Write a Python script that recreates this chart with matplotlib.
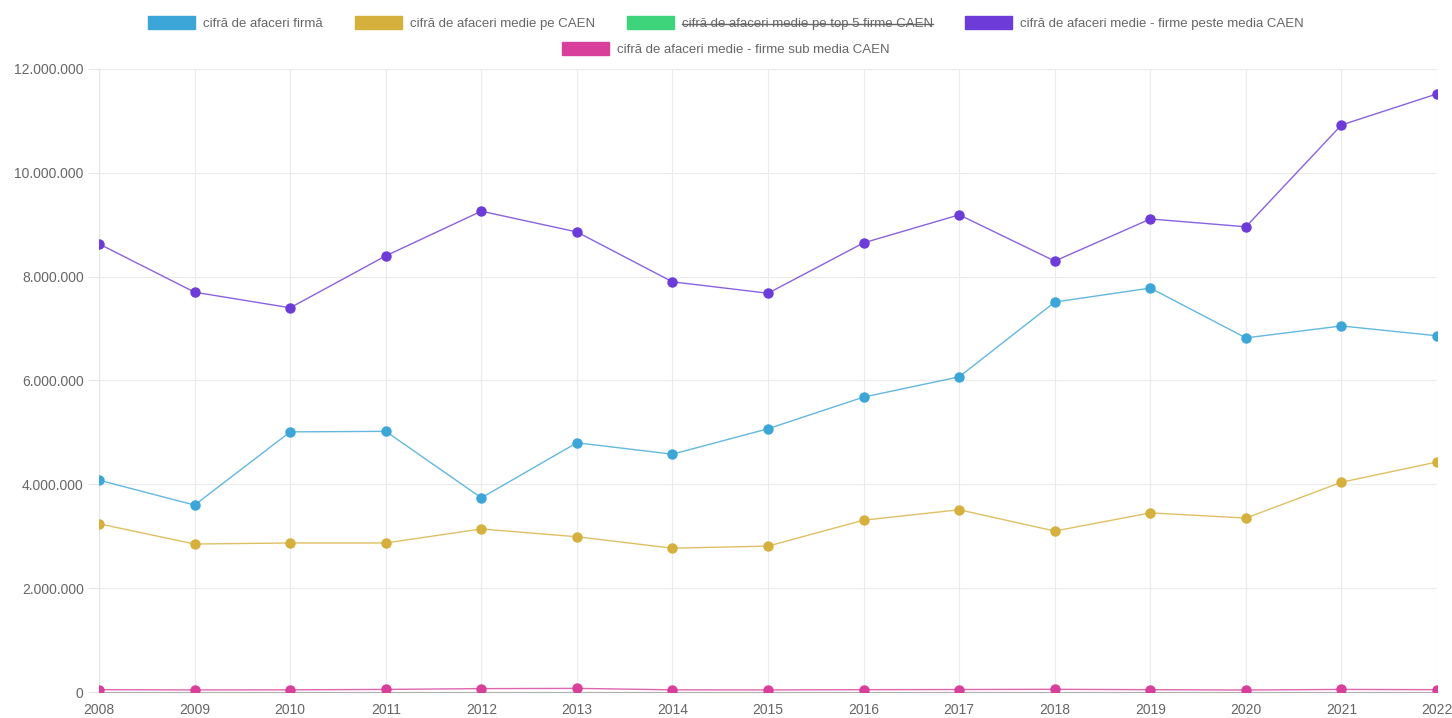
import matplotlib
matplotlib.use("Agg")
import matplotlib.pyplot as plt
from matplotlib.patches import Patch
from matplotlib.lines import Line2D
from matplotlib.ticker import FuncFormatter

plt.rcParams['font.family'] = ['Liberation Sans', 'DejaVu Sans']

# data
years = list(range(2008, 2023))
firma = [4080000, 3600000, 5010000, 5020000, 3740000, 4800000, 4580000, 5070000,
         5680000, 6070000, 7510000, 7780000, 6820000, 7050000, 6860000]
medie_caen = [3240000, 2850000, 2870000, 2870000, 3140000, 2990000, 2770000, 2810000,
              3310000, 3510000, 3100000, 3450000, 3350000, 4040000, 4430000]
peste_media = [8630000, 7700000, 7400000, 8400000, 9260000, 8860000, 7900000, 7680000,
               8650000, 9190000, 8300000, 9110000, 8960000, 10920000, 11520000]
sub_media = [45000, 40000, 42000, 50000, 65000, 70000, 42000, 40000,
             45000, 48000, 52000, 45000, 38000, 50000, 45000]

labels = ['cifră de afaceri firmă', 'cifră de afaceri medie pe CAEN',
          'cifră de afaceri medie pe top 5 firme CAEN',
          'cifră de afaceri medie - firme peste media CAEN',
          'cifră de afaceri medie - firme sub media CAEN']
colors = ['#3ca6d8', '#d6b03c', '#3dd47b', '#6c3bd8', '#d83f9b']

fig = plt.figure(figsize=(14.52, 7.18), dpi=100)
ax = fig.add_axes([0.0682, 0.0362, 0.9215, 0.8678])

series = [(firma, colors[0]), (medie_caen, colors[1]),
          (peste_media, colors[3]), (sub_media, colors[4])]
for vals, c in series:
    ax.plot(years, vals, color=c, lw=1, alpha=0.8, zorder=3)
    ax.plot(years, vals, 'o', color=c, ms=6.5, mec=c, zorder=4)

ax.set_xlim(2008, 2022)
ax.set_ylim(0, 12000000)
ax.set_xticks(years)
ax.set_yticks(range(0, 12000001, 2000000))
ax.yaxis.set_major_formatter(FuncFormatter(lambda v, p: f"{int(v):,}".replace(',', '.')))
ax.grid(True, color='#ebebeb', lw=0.8)
ax.set_axisbelow(True)
for s in ['top', 'right']:
    ax.spines[s].set_visible(False)
ax.spines['left'].set_color('#e5e5e5')
ax.spines['bottom'].set_color('#b0b0b0')
ax.tick_params(colors='#666666', labelsize=10, length=8, width=0.8)
ax.tick_params(axis='both', color='#e5e5e5')
ax.tick_params(axis='y', pad=3)
ax.tick_params(axis='x', length=0, pad=8)

# legend, two centred rows
h = [Patch(facecolor=c, edgecolor=c) for c in colors]
leg1 = fig.legend(h[:4], labels[:4], loc='center', bbox_to_anchor=(0.5, 0.968), ncol=4,
                  frameon=False, fontsize=9.5, handlelength=3.6, handleheight=1.2,
                  columnspacing=2.4, handletextpad=0.6, labelcolor='#666666')
leg2 = fig.legend(h[4:], labels[4:], loc='center', bbox_to_anchor=(0.5, 0.932), ncol=1,
                  frameon=False, fontsize=9.5, handlelength=3.6, handleheight=1.2,
                  handletextpad=0.6, labelcolor='#666666')

# hidden dataset: strike through its label
fig.canvas.draw()
t = leg1.get_texts()[2]
bb = t.get_window_extent().transformed(fig.transFigure.inverted())
ymid = (bb.y0 + bb.y1) / 2
fig.add_artist(Line2D([bb.x0, bb.x1], [ymid, ymid], transform=fig.transFigure,
                      color='#666666', lw=1))

fig.savefig('out.png', dpi=100)
